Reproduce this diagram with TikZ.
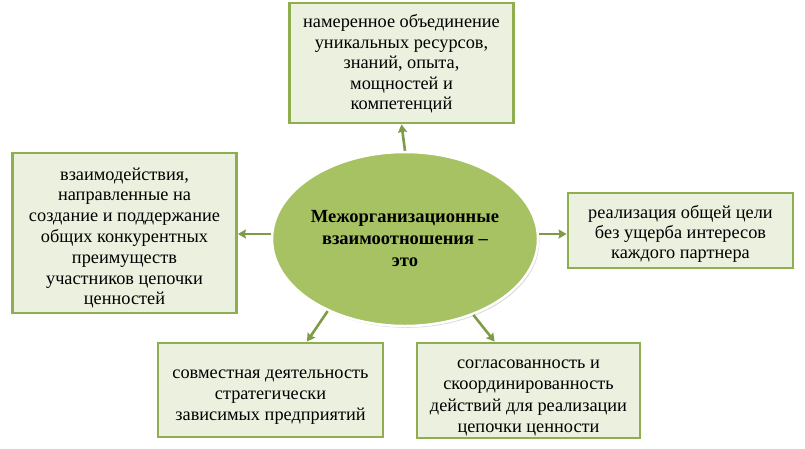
\documentclass[tikz,border=0pt]{standalone}
\usepackage{fontspec}
\setmainfont{Liberation Serif}
\usetikzlibrary{arrows.meta,shadows,shapes.geometric,calc}
\definecolor{olive}{HTML}{8FAE4F}
\definecolor{arrcol}{HTML}{7F9B47}
\definecolor{boxfill}{HTML}{EBF1DE}
\definecolor{ellfill}{HTML}{A6C263}
% #1: downward shift of text block, #2: baseline skip, #3: lines
\newcommand\btext[3]{\fontsize{18.3}{#2}\selectfont\raisebox{\dimexpr-4.6pt-#1\relax}[0pt][0pt]{\begin{tabular}{@{}c@{}}#3\end{tabular}}}
\begin{document}
\begin{tikzpicture}[x=1pt,y=-1pt,
  tbox/.style={draw=olive, line width=2.8pt, fill=boxfill, inner sep=0pt},
  conn/.style={draw=arrcol, line width=2.6pt, -{Stealth[length=8pt,width=9pt,inset=1pt]}}]
\useasboundingbox (0,0) rectangle (805,448);
\node[tbox, minimum width=224pt, minimum height=120pt] (top) at (401.5,63)
  {\btext{1.5pt}{20.5pt}{намеренное объединение\\уникальных ресурсов,\\знаний, опыта,\\мощностей и\\компетенций}};
\node[tbox, minimum width=224pt, minimum height=160pt] (left) at (124.5,233)
  {\btext{5pt}{20.8pt}{взаимодействия,\\направленные на\\создание и поддержание\\общих конкурентных\\преимуществ\\участников цепочки\\ценностей}};
\node[tbox, minimum width=225pt, minimum height=75pt] (right) at (680.5,230.5)
  {\btext{3.5pt}{20pt}{реализация общей цели\\без ущерба интересов\\каждого партнера}};
\node[tbox, minimum width=225pt, minimum height=94pt] (bl) at (270.5,390)
  {\btext{5pt}{21pt}{совместная деятельность\\стратегически\\зависимых предприятий}};
\node[tbox, minimum width=223pt, minimum height=95pt] (br) at (528.5,390.5)
  {\btext{5.5pt}{21.3pt}{согласованность и\\скоординированность\\действий для реализации\\цепочки ценности}};
\node[ellipse, draw=white, line width=2.5pt, fill=ellfill, minimum width=266pt, minimum height=174pt,
  inner sep=0pt, align=center, font=\fontsize{18.5}{22}\selectfont\bfseries,
  drop shadow={shadow xshift=1.5pt, shadow yshift=-1.8pt, fill=black!30}] (c) at (405,239)
  {Межорганизационные\\взаимоотношения –\\это};
\coordinate (blin) at ($(bl.north west)!0.66!(bl.north east)$);
\coordinate (brin) at ($(br.north west)!0.35!(br.north east)$);
\draw[conn] (c.north) -- (top.south);
\draw[conn] (c.west |- 0,234) -- (left.east |- 0,234);
\draw[conn] (c.east |- 0,234) -- (right.west |- 0,234);
\draw[conn] (c.-137) -- (blin);
\draw[conn] (c.-48) -- (brin);
\end{tikzpicture}
\end{document}
